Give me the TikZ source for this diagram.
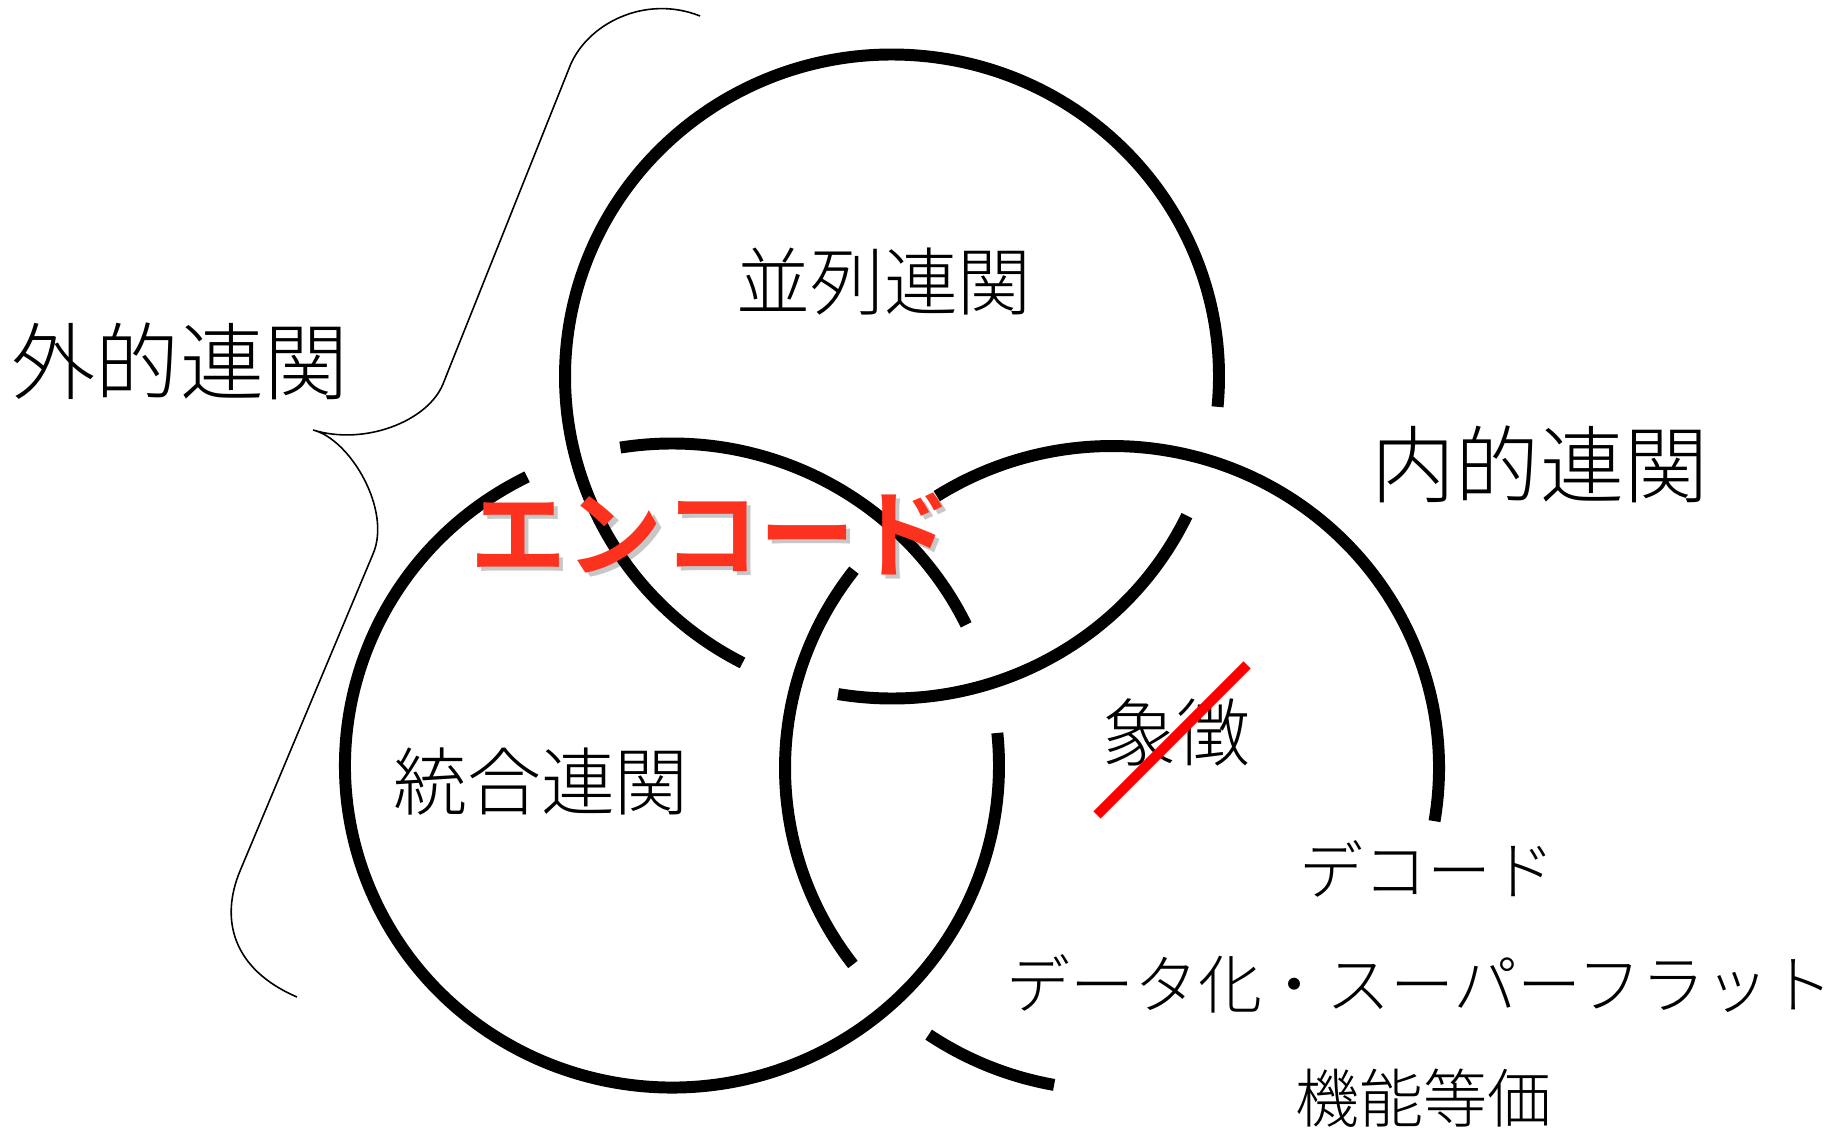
\documentclass[tikz,border=0pt]{standalone}
\usepackage{fontspec}
\IfFontExistsTF{Noto Sans CJK JP Light}
  {\setmainfont{Noto Sans CJK JP Light}[BoldFont={Noto Sans CJK JP Bold}]}
  {\setmainfont{Noto Sans CJK JP}}
\definecolor{encred}{RGB}{252,50,30}
\begin{document}
\begin{tikzpicture}[x=0.01cm,y=0.01cm,
  ring/.style={line width=3.4pt},
  big/.style={font=\fontsize{23.9pt}{28pt}\selectfont},
  mid/.style={font=\fontsize{21pt}{25pt}\selectfont},
  small/.style={font=\fontsize{18.2pt}{22pt}\selectfont},
  enc/.style={font=\fontsize{27.3pt}{32pt}\selectfont\bfseries}]

  \useasboundingbox (0,0) rectangle (1839,1129);

  \coordinate (T) at (892,752.5);
  \coordinate (L) at (672,363.5);
  \coordinate (R) at (1112,361);

  \foreach \c/\a/\b in {T/-5.4/242.8, T/-99.5/-25.6, R/-9.5/122.4, R/142.1/217.6,
                        R/235.9/259.8, L/25.9/99.1, L/116.3/365.8}{
  \draw[ring] (\c) ++(\a:327 and 322) arc[start angle=\a, end angle=\b, x radius=327, y radius=322];
  }

  \draw[line width=0.45pt] (700,1113) .. controls (645,1135) and (587,1105) .. (570,1063)
    -- (443,745) .. controls (428,708) and (365,683) .. (313,699)
    .. controls (350,690) and (392,619) .. (373,575)
    -- (240,258) .. controls (220,210) and (232,160) .. (297,132);

  \node[big] (outer) at (180,768) {外的連関};
  \node[big] (inner) at (1540,665) {内的連関};
  \node[mid] (para) at (884,847) {並列連関};
  \node[mid] (integ) at (541,347) {統合連関};
  \node[mid] (sym) at (1176,397) {象徴};

  \node[enc, text=black, opacity=.22] (encshadow) at (715,591) {エンコード};
  \node[enc, text=encred] (encode) at (711,595) {エンコード};

  \node[small] (dec) at (1427,260) {デコード};
  \node[small] (data) at (1420,145) {データ化・スーパーフラット};
  \node[small] (func) at (1423,31) {機能等価};

  \draw[red, line width=2.9pt] ([shift={(-79,-83)}]sym.center) -- ([shift={(71,67)}]sym.center);

  \end{tikzpicture}
\end{document}
